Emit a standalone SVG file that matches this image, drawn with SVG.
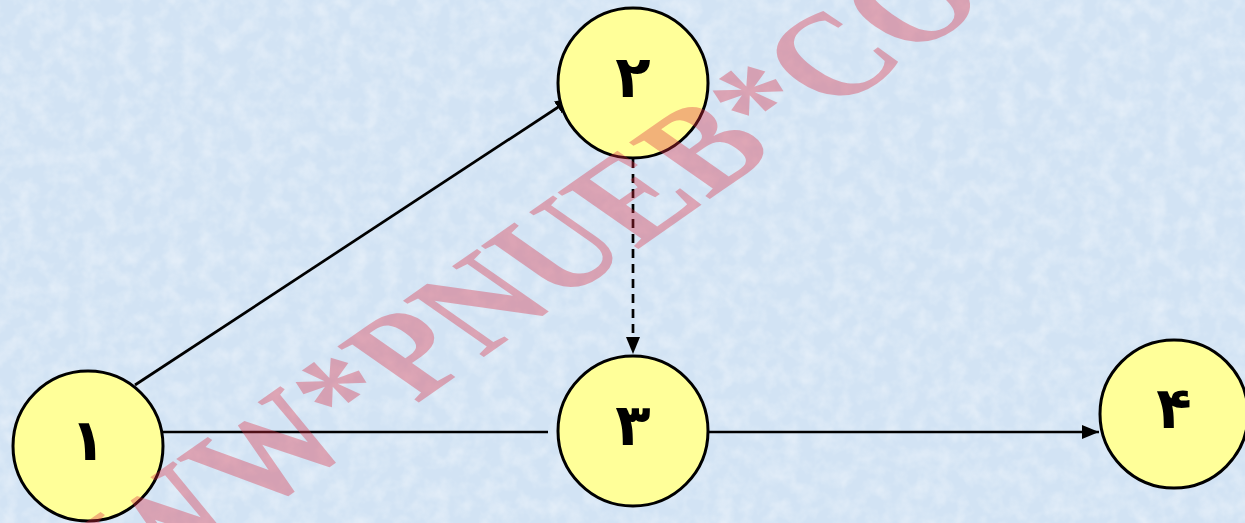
<svg xmlns="http://www.w3.org/2000/svg" width="1245" height="523" viewBox="0 0 1245 523">
<defs>
<style>
.node circle{fill:#ffff99;stroke:#000;stroke-width:3}
.node text{font-family:"DejaVu Sans","Noto Sans",sans-serif;font-weight:bold;font-size:58px;fill:#000;text-anchor:middle}
.edge{stroke:#000;stroke-width:2.7;fill:none}
.dash{stroke-dasharray:9,6}
.wm{font-family:"Liberation Serif",serif;font-weight:bold;font-size:106px;fill:#dc2a40;fill-opacity:0.36;text-anchor:middle}
</style>
<marker id="arr" markerUnits="userSpaceOnUse" markerWidth="17" markerHeight="14" refX="17" refY="7" orient="auto">
<path d="M0,0 L17,7 L0,14 Z" fill="#000"/>
</marker>
<filter id="tex" x="0" y="0" width="100%" height="100%">
<feTurbulence type="fractalNoise" baseFrequency="0.06" numOctaves="3" seed="4" result="n"/>
<feColorMatrix in="n" type="matrix" values="0 0 0 0 1  0 0 0 0 1  0 0 0 0 1  0 0 0 1.2 -0.45"/>
</filter>
</defs>
<rect width="1245" height="523" fill="#d2e3f4"/>
<rect width="1245" height="523" filter="url(#tex)" opacity="0.6"/>
<g id="connectors">
<line class="edge" x1="135" y1="385" x2="572" y2="98" marker-end="url(#arr)"/>
<line class="edge" x1="163" y1="432" x2="548" y2="432"/>
<line class="edge dash" x1="633" y1="159" x2="633" y2="354" marker-end="url(#arr)"/>
<line class="edge" x1="708" y1="432" x2="1099" y2="432" marker-end="url(#arr)"/>
</g>
<g id="node1" class="node"><circle cx="88" cy="446" r="75"/><text x="88" y="460">۱</text></g>
<g id="node2" class="node"><circle cx="633" cy="83" r="75"/><text x="633" y="97">۲</text></g>
<g id="node3" class="node"><circle cx="633" cy="431" r="75"/><text x="633" y="445">۳</text></g>
<g id="node4" class="node"><circle cx="1174" cy="414" r="74"/><text x="1174" y="428">۴</text></g>
<text class="wm" transform="translate(568,298) scale(1.43,1) rotate(-45) scale(1,1.15)">WWW*PNUEB*COM</text>
</svg>
